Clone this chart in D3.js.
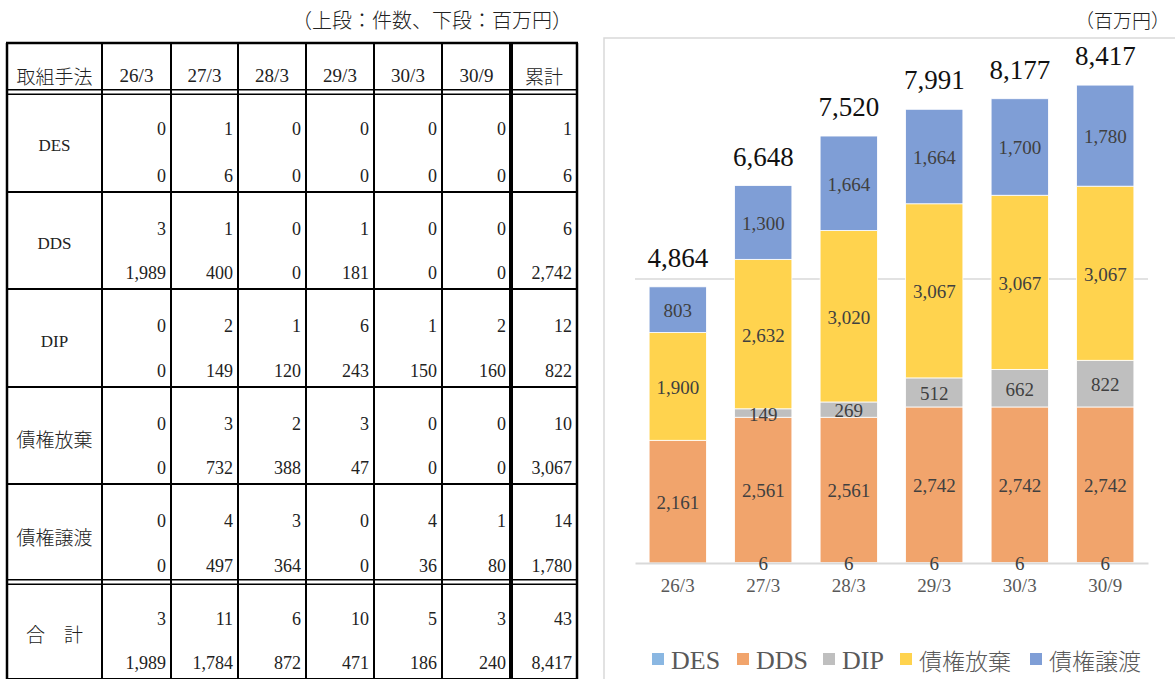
<!DOCTYPE html>
<html>
<head>
<meta charset="utf-8">
<script src="https://cdn.jsdelivr.net/npm/d3@7"></script>
<style>
  body { margin: 0; background: #fff; }
  svg { display: block; }
  .serif { font-family: "Liberation Serif", "Times New Roman", "DejaVu Serif", serif; }
  .jp { font-family: "Noto Sans CJK JP", sans-serif; }
</style>
</head>
<body>
<svg id="chart" width="1175" height="679"></svg>
<script>
// 期間と取組手法
var periods = ["26/3", "27/3", "28/3", "29/3", "30/3", "30/9"];
var tableHeader = ["取組手法", "26/3", "27/3", "28/3", "29/3", "30/3", "30/9", "累計"];
var tableRowLabels = ["DES", "DDS", "DIP", "債権放棄", "債権譲渡", "合　計"];

// 上段：件数 (最後は累計)
var tableCounts = [
    [0, 1, 0, 0, 0, 0, 1],
    [3, 1, 0, 1, 0, 0, 6],
    [0, 2, 1, 6, 1, 2, 12],
    [0, 3, 2, 3, 0, 0, 10],
    [0, 4, 3, 0, 4, 1, 14],
    [3, 11, 6, 10, 5, 3, 43]
];
// 下段：百万円
var tableAmounts = [
    [0, 6, 0, 0, 0, 0, 6],
    [1989, 400, 0, 181, 0, 0, 2742],
    [0, 149, 120, 243, 150, 160, 822],
    [0, 732, 388, 47, 0, 0, 3067],
    [0, 497, 364, 0, 36, 80, 1780],
    [1989, 1784, 872, 471, 186, 240, 8417]
];

// グラフ（累計額、百万円）
var seriesNames = ["DES", "DDS", "DIP", "債権放棄", "債権譲渡"];
var valDES = [0, 6, 6, 6, 6, 6];
var valDDS = [2161, 2561, 2561, 2742, 2742, 2742];
var valDIP = [0, 149, 269, 512, 662, 822];
var valHoki = [1900, 2632, 3020, 3067, 3067, 3067];
var valJoto = [803, 1300, 1664, 1664, 1700, 1780];
var seriesColors = ["#8AB7E2", "#F1A46C", "#BFBFBF", "#FFD34E", "#7F9ED6"];

var svg = d3.select("#chart");
var fmt = d3.format(",");
var isLatin = function(s) { return /^[A-Za-z0-9\/,]+$/.test(s); };

// ---------- 表 ----------
var colX = [7, 102, 171, 238, 306, 374, 442, 511, 577];
var rowY = [43, 92, 192, 289, 387, 484, 582, 679];

svg.append("text")
    .attr("class", "jp")
    .attr("x", 572).attr("y", 28)
    .attr("text-anchor", "end")
    .attr("font-size", 20)
    .attr("font-weight", 300)
    .attr("fill", "#222")
    .text("（上段：件数、下段：百万円）");

var table = svg.append("g");

// ヘッダー
table.selectAll("text.head")
    .data(tableHeader)
    .enter()
    .append("text")
        .attr("class", function(d) { return isLatin(d) ? "serif" : "jp"; })
        .attr("x", function(d, i) { return (colX[i] + colX[i + 1]) / 2; })
        .attr("y", 75)
        .attr("text-anchor", "middle")
        .attr("dominant-baseline", "central")
        .attr("font-size", 19)
        .attr("font-weight", function(d) { return isLatin(d) ? null : 300; })
        .attr("fill", "#222")
        .text(function(d) { return d; });

// 行ラベル
table.selectAll("text.rowlab")
    .data(tableRowLabels)
    .enter()
    .append("text")
        .attr("class", function(d) { return isLatin(d) ? "serif" : "jp"; })
        .attr("x", (colX[0] + colX[1]) / 2)
        .attr("y", function(d, i) { return (rowY[i + 1] + rowY[i + 2]) / 2 + 3; })
        .attr("text-anchor", "middle")
        .attr("dominant-baseline", "central")
        .attr("font-size", function(d) { return isLatin(d) ? 17 : 19; })
        .attr("font-weight", function(d) { return isLatin(d) ? null : 300; })
        .attr("fill", "#222")
        .text(function(d) { return d; });

// 数値
tableCounts.forEach(function(row, r) {
    var top = rowY[r + 1], bottom = rowY[r + 2];
    table.selectAll(null)
        .data(row)
        .enter()
        .append("text")
            .attr("class", "serif")
            .attr("x", function(d, c) { return colX[c + 2] - 5; })
            .attr("y", top + 37)
            .attr("text-anchor", "end")
            .attr("dominant-baseline", "central")
            .attr("font-size", 18)
            .attr("fill", "#222")
            .text(function(d) { return fmt(d); });
    table.selectAll(null)
        .data(tableAmounts[r])
        .enter()
        .append("text")
            .attr("class", "serif")
            .attr("x", function(d, c) { return colX[c + 2] - 5; })
            .attr("y", bottom - 16)
            .attr("text-anchor", "end")
            .attr("dominant-baseline", "central")
            .attr("font-size", 18)
            .attr("fill", "#222")
            .text(function(d) { return fmt(d); });
});

// 罫線
var lines = table.append("g").attr("stroke", "#000");
colX.forEach(function(x, i) {
    var w = (i == 0 || i == colX.length - 1) ? 2.5 : (i == 7 ? 4 : 2);
    lines.append("line")
        .attr("x1", x).attr("x2", x)
        .attr("y1", rowY[0]).attr("y2", 679)
        .attr("stroke-width", w);
});
rowY.forEach(function(y, i) {
    if (i == 1 || i == 6) {
        [-2.2, 2.2].forEach(function(off) {
            lines.append("line")
                .attr("x1", colX[0]).attr("x2", colX[colX.length - 1])
                .attr("y1", y + off).attr("y2", y + off)
                .attr("stroke-width", 1.6);
        });
    } else {
        lines.append("line")
            .attr("x1", colX[0] - 1).attr("x2", colX[colX.length - 1] + 1)
            .attr("y1", y).attr("y2", y)
            .attr("stroke-width", i == 0 ? 2.5 : 2);
    }
});

// ---------- グラフ ----------
svg.append("text")
    .attr("class", "jp")
    .attr("x", 1170).attr("y", 28)
    .attr("text-anchor", "end")
    .attr("font-size", 19)
    .attr("font-weight", 300)
    .attr("fill", "#222")
    .text("（百万円）");

svg.append("rect")
    .attr("x", 604).attr("y", 38)
    .attr("width", 600).attr("height", 700)
    .attr("fill", "none")
    .attr("stroke", "#D9D9D9")
    .attr("stroke-width", 1.5);

var data = periods.map(function(p, i) {
    return {period: p, "DES": valDES[i], "DDS": valDDS[i], "DIP": valDIP[i],
            "債権放棄": valHoki[i], "債権譲渡": valJoto[i]};
});
var stacked = d3.stack().keys(seriesNames)(data);

var x = d3.scaleBand()
    .domain(periods)
    .range([635, 1148])
    .paddingInner(0.33)
    .paddingOuter(0.165);

var y = d3.scaleLinear()
    .domain([0, 9000])
    .range([563, 52]);

var color = d3.scaleOrdinal().domain(seriesNames).range(seriesColors);

// 目盛線
svg.append("line")
    .attr("x1", 635).attr("x2", 1148)
    .attr("y1", y(5000)).attr("y2", y(5000))
    .attr("stroke", "#D9D9D9")
    .attr("stroke-width", 1.5);

var layers = svg.selectAll("g.layer")
    .data(stacked)
    .enter()
    .append("g")
        .attr("class", "layer")
        .attr("fill", function(d) { return color(d.key); });

layers.selectAll("rect")
    .data(function(d) { return d; })
    .enter()
    .append("rect")
        .attr("x", function(d) { return x(d.data.period); })
        .attr("width", x.bandwidth())
        .attr("y", function(d) { return y(d[1]); })
        .attr("height", function(d) { return y(d[0]) - y(d[1]); })
        .attr("stroke", "#fff")
        .attr("stroke-width", 0.8);

// 横軸
svg.append("g")
    .attr("transform", "translate(0,563)")
    .call(d3.axisBottom(x).tickSize(0).tickPadding(16))
    .call(function(g) {
        g.attr("font-family", null);
        g.select(".domain").attr("stroke", "#D9D9D9").attr("stroke-width", 2);
        g.selectAll("text")
            .attr("class", "serif")
            .attr("font-size", 19)
            .attr("fill", "#595959");
    });

// データラベル（軸の上に描く）
var labels = svg.append("g");
stacked.forEach(function(layer) {
    labels.selectAll(null)
        .data(layer.filter(function(s) { return s[1] - s[0] > 0; }))
        .enter()
        .append("text")
            .attr("class", "serif")
            .attr("x", function(d) { return x(d.data.period) + x.bandwidth() / 2; })
            .attr("y", function(d) { return y((d[0] + d[1]) / 2) + 1; })
            .attr("text-anchor", "middle")
            .attr("dominant-baseline", "central")
            .attr("font-size", 19)
            .attr("fill", "#404040")
            .text(function(d) { return fmt(d[1] - d[0]); });
});

// 合計ラベル
var totals = stacked[stacked.length - 1];
svg.selectAll("text.total")
    .data(totals)
    .enter()
    .append("text")
        .attr("class", "serif")
        .attr("x", function(d) { return x(d.data.period) + x.bandwidth() / 2; })
        .attr("y", function(d) { return y(d[1]) - 20; })
        .attr("text-anchor", "middle")
        .attr("font-size", 27)
        .attr("fill", "#111")
        .text(function(d) { return fmt(d[1]); });

// 凡例
var legendX = [652, 737, 823, 900, 1030];
var legend = svg.selectAll("g.legend")
    .data(seriesNames)
    .enter()
    .append("g")
        .attr("class", "legend")
        .attr("transform", function(d, i) { return "translate(" + legendX[i] + ",659)"; });

legend.append("rect")
    .attr("x", 0).attr("y", -6)
    .attr("width", 12).attr("height", 12)
    .attr("fill", function(d) { return color(d); });

legend.append("text")
    .attr("class", function(d) { return isLatin(d) ? "serif" : "jp"; })
    .attr("x", 19).attr("y", 1)
    .attr("dominant-baseline", "central")
    .attr("font-size", function(d) { return isLatin(d) ? 26 : 23; })
    .attr("font-weight", function(d) { return isLatin(d) ? null : 300; })
    .attr("fill", "#595959")
    .text(function(d) { return d; });
</script>
</body>
</html>
